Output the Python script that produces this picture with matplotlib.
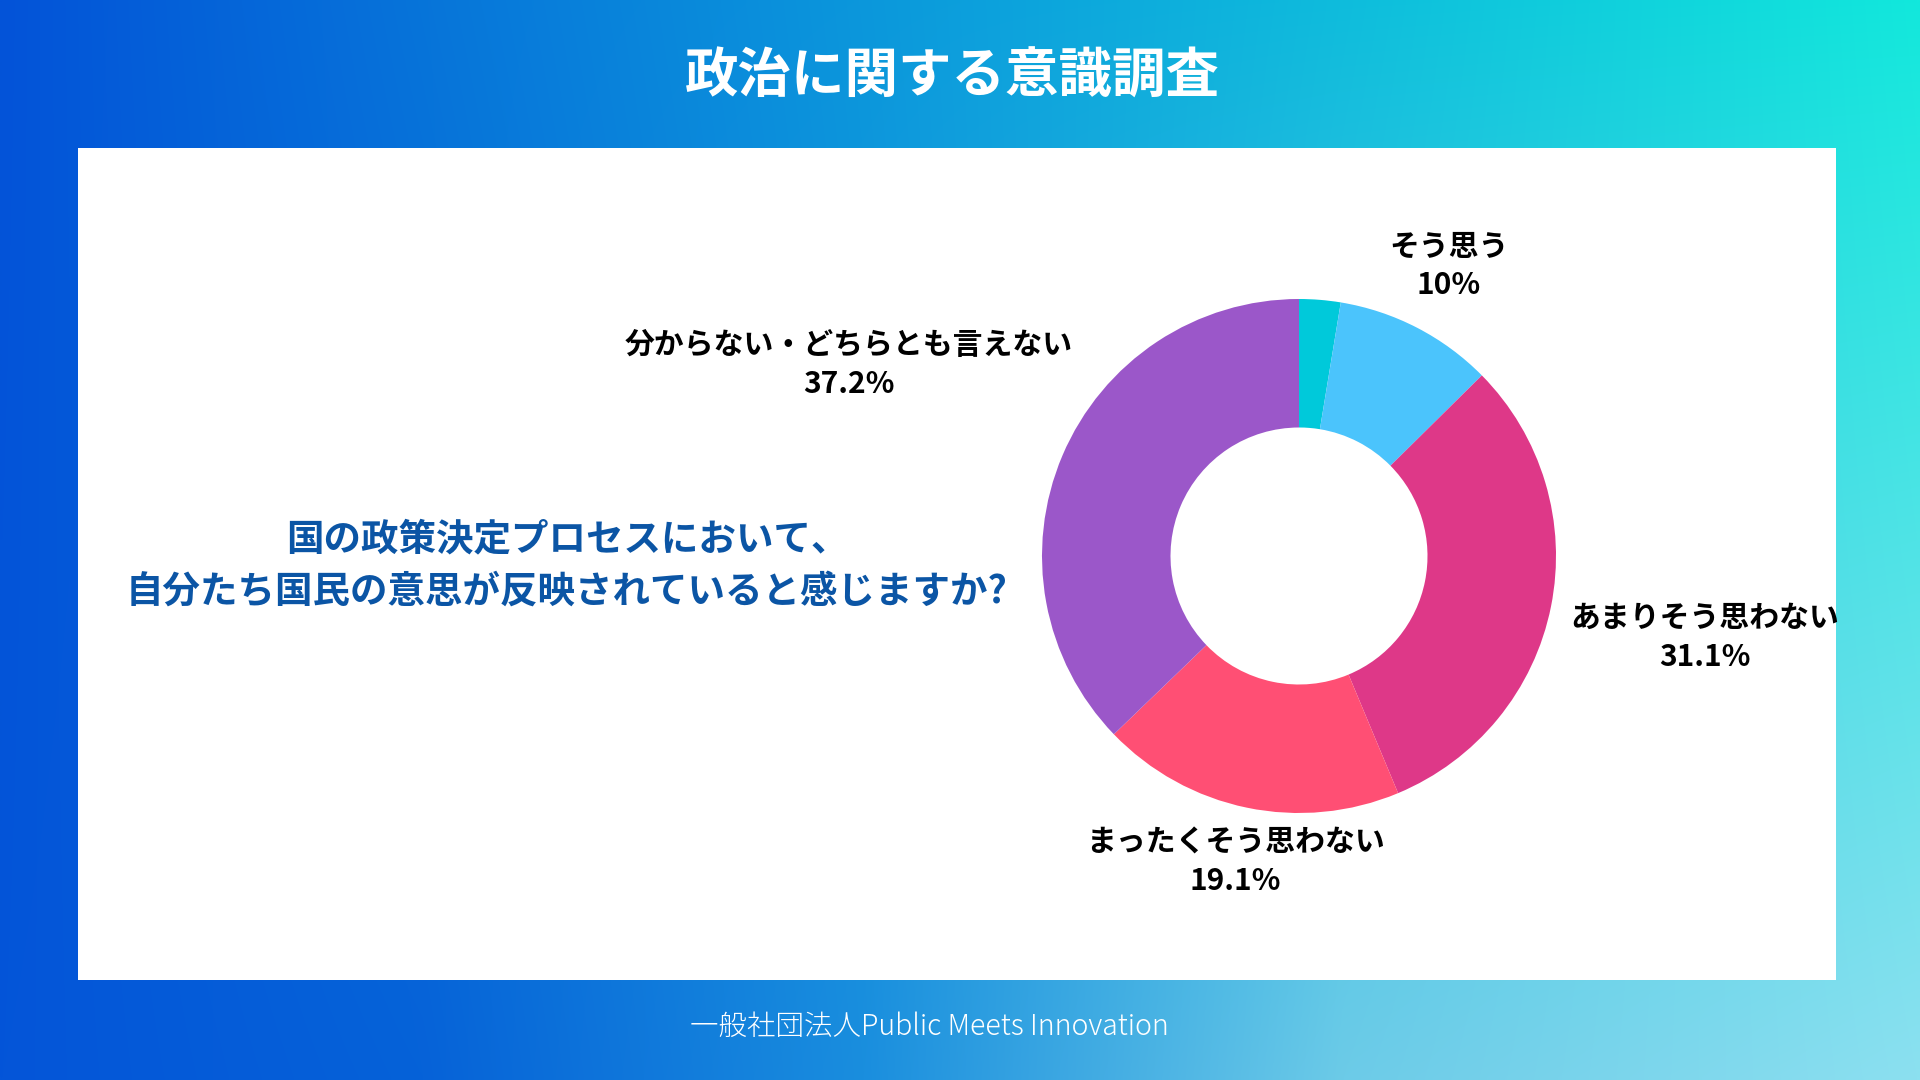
import numpy as np
import matplotlib
matplotlib.use("Agg")
import matplotlib.pyplot as plt
from matplotlib.patches import Rectangle

plt.rcParams['font.family'] = ['Noto Sans CJK JP', 'DejaVu Sans']

# ---- data ----
title = "政治に関する意識調査"
question = "国の政策決定プロセスにおいて、\n自分たち国民の意思が反映されていると感じますか?"
footer = "一般社団法人Public Meets Innovation"
categories = ["とてもそう思う", "そう思う", "あまりそう思わない", "まったくそう思わない",
              "分からない・どちらとも言えない"]
values = [2.6, 10, 31.1, 19.1, 37.2]
colors = ["#00c9da", "#4bc4fc", "#de3888", "#ff4f74", "#9b57c9"]

W, H = 1920, 1080
fig = plt.figure(figsize=(19.2, 10.8), dpi=100)


def hex2rgb(h):
    h = h.lstrip('#')
    return np.array([int(h[i:i + 2], 16) for i in (0, 2, 4)]) / 255.0


def row(stops, n):
    xs = np.linspace(0, 1, n)
    pos = [p for p, _ in stops]
    cols = np.array([hex2rgb(c) for _, c in stops])
    return np.stack([np.interp(xs, pos, cols[:, k]) for k in range(3)], axis=-1)


# ---- background gradient ----
bg = fig.add_axes([0, 0, 1, 1])
top = row([(0, "#0353d8"), (0.5, "#0c9fdc"), (1, "#12e8dc")], 384)
bot = row([(0, "#0455d8"), (0.22, "#0662d8"), (0.45, "#1a8ede"),
           (0.7, "#6ccbe8"), (1, "#8ce0f0")], 384)
gy = np.linspace(0, 1, 216)[:, None, None]
img = top[None] * (1 - gy) + bot[None] * gy
bg.imshow(img, extent=[0, W, H, 0], aspect='auto', interpolation='bilinear')
bg.set_xlim(0, W)
bg.set_ylim(H, 0)
bg.axis('off')

# white panel
px0, py0, px1, py1 = 78, 148, 1836, 980
bg.add_patch(Rectangle((px0, py0), px1 - px0, py1 - py0, facecolor='white',
                       edgecolor='none', zorder=1))

# title
bg.text(952, 77, title, ha='center', va='center', color='white',
        fontsize=38.5, fontweight='bold', zorder=3)

# question
bg.text(567, 565, question, ha='center', va='center', color='#0b55a5',
        fontsize=27, fontweight='bold', linespacing=1.4, multialignment='center',
        zorder=3)

# footer
bg.text(929, 1027, footer, ha='center', va='center', color='white',
        fontsize=20.5, fontweight='light', zorder=3)

# ---- donut ----
cx, cy, R = 1299, 556, 257
ax = fig.add_axes([(cx - R) / W, (H - cy - R) / H, 2 * R / W, 2 * R / H])
ax.pie(values, colors=colors, startangle=90, counterclock=False, radius=1,
       wedgeprops=dict(width=0.5, linewidth=0))
ax.set_xlim(-1, 1)
ax.set_ylim(-1, 1)
ax.axis('off')
ax.patch.set_alpha(0)

# ---- labels ----
renderer = fig.canvas.get_renderer()
total = sum(values)
cum = 0.0
for name, v in zip(categories, values):
    mid = (cum + v / 2) / total * 2 * np.pi
    cum += v
    if v / total < 0.05:
        continue
    t = bg.text(0, 0, f"{name}\n{v:g}%", ha='center', va='center', color='black',
                fontsize=21.5, fontweight='bold', linespacing=1.35,
                multialignment='center', zorder=3)
    ext = t.get_window_extent(renderer)
    hw, hh = ext.width / 2, ext.height / 2
    d = R + 25 + abs(np.sin(mid)) * hw + max(np.cos(mid), 0) ** 4 * hh * 0.8
    t.set_position((cx + d * np.sin(mid), cy - d * np.cos(mid)))

fig.savefig("out.png", dpi=100)
